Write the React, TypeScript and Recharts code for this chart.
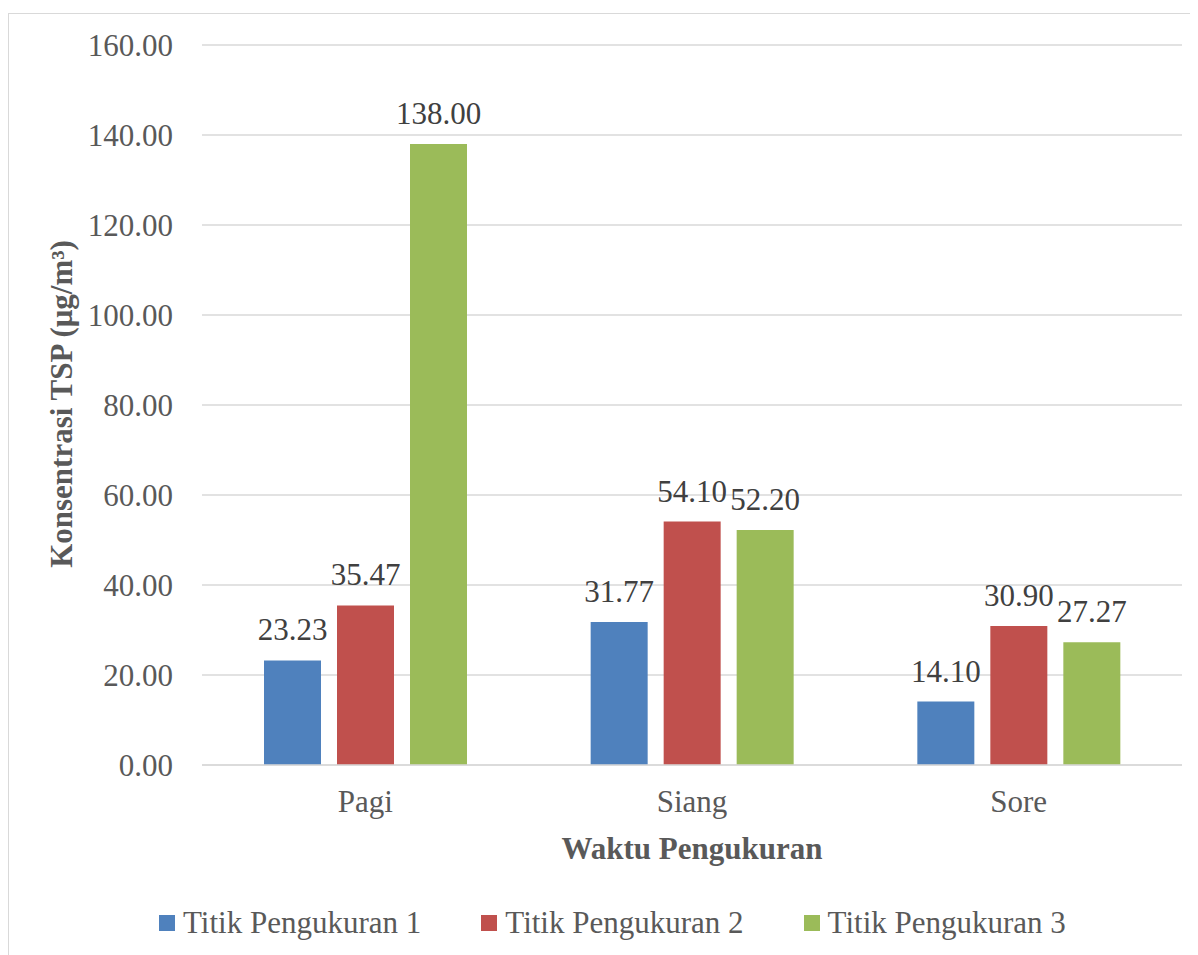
import { BarChart, Bar, XAxis, YAxis, CartesianGrid, LabelList, Label } from 'recharts';

const categories = ['Pagi', 'Siang', 'Sore'];
const titik1 = [23.23, 31.77, 14.1];
const titik2 = [35.47, 54.1, 30.9];
const titik3 = [138.0, 52.2, 27.27];
const yTicks = [0, 20, 40, 60, 80, 100, 120, 140, 160];

const seriesNames = ['Titik Pengukuran 1', 'Titik Pengukuran 2', 'Titik Pengukuran 3'];
const seriesColors = ['#4F81BD', '#C0504D', '#9BBB59'];

const data = categories.map((name, i) => ({
  name,
  t1: titik1[i],
  t2: titik2[i],
  t3: titik3[i],
}));

const FONT = 'Liberation Serif, DejaVu Serif, serif';
const fmt = (v: any) => Number(v).toFixed(2);

const App = () => {
  const keys = ['t1', 't2', 't3'];

  return (
    <div
      style={{
        position: 'relative',
        marginTop: 5,
        width: 1190,
        height: 960,
        border: '1px solid #d9d9d9',
        background: '#fff',
        fontFamily: FONT,
      }}
    >
      <BarChart
        width={1190}
        height={960}
        data={data}
        margin={{ top: 31, right: 17, left: 0, bottom: 149 }}
        barGap={16}
        barCategoryGap={62}
        style={{ fontFamily: FONT }}
      >
        <CartesianGrid vertical={false} stroke="#d9d9d9" strokeWidth={1.5} />
        <XAxis
          dataKey="name"
          height={60}
          tickLine={false}
          tickSize={0}
          tickMargin={25}
          axisLine={{ stroke: '#d9d9d9', strokeWidth: 1.5 }}
          tick={{ fill: '#595959', fontSize: 31, fontFamily: FONT }}
        >
          <Label
            content={() => (
              <text
                x={683}
                y={845}
                textAnchor="middle"
                fill="#595959"
                fontSize={31}
                fontWeight="bold"
                fontFamily={FONT}
              >
                Waktu Pengukuran
              </text>
            )}
          />
        </XAxis>
        <YAxis
          width={193}
          domain={[0, 160]}
          ticks={yTicks}
          tickFormatter={fmt}
          axisLine={false}
          tickLine={false}
          tickSize={0}
          tickMargin={29}
          tick={{ fill: '#595959', fontSize: 31, fontFamily: FONT }}
        >
          <Label
            content={() => (
              <text
                x={63}
                y={390}
                transform="rotate(-90, 63, 390)"
                textAnchor="middle"
                fill="#595959"
                fontSize={31}
                fontWeight="bold"
                fontFamily={FONT}
              >
                Konsentrasi TSP (μg/m³)
              </text>
            )}
          />
        </YAxis>
        {keys.map((k, i) => (
          <Bar key={k} dataKey={k} name={seriesNames[i]} fill={seriesColors[i]} isAnimationActive={false}>
            <LabelList
              dataKey={k}
              position="top"
              offset={20}
              formatter={fmt}
              fill="#404040"
              fontSize={31}
              fontFamily={FONT}
            />
          </Bar>
        ))}
      </BarChart>
      <div
        style={{
          position: 'absolute',
          left: 150,
          top: 891,
          display: 'flex',
          alignItems: 'center',
          gap: 60,
          color: '#595959',
          fontSize: 31,
          fontFamily: FONT,
          whiteSpace: 'nowrap',
        }}
      >
        {seriesNames.map((n, i) => (
          <div key={n} style={{ display: 'flex', alignItems: 'center' }}>
            <span style={{ width: 16, height: 16, background: seriesColors[i], marginRight: 8, display: 'inline-block' }} />
            <span>{n}</span>
          </div>
        ))}
      </div>
    </div>
  );
};

export default App;
